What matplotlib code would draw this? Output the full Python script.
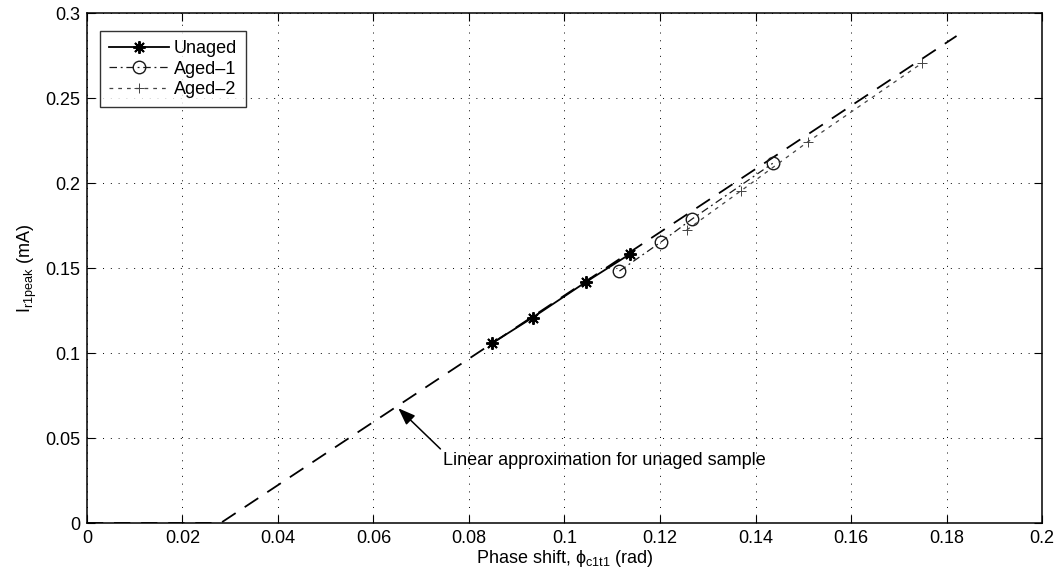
import matplotlib
matplotlib.use("Agg")
import matplotlib.pyplot as plt

plt.rcParams['font.family'] = ['Liberation Sans', 'DejaVu Sans']
plt.rcParams['mathtext.default'] = 'regular'

# Data
unaged_x = [0.0848, 0.0933, 0.1046, 0.1137]
unaged_y = [0.1057, 0.1208, 0.1420, 0.1582]
aged1_x = [0.1115, 0.1203, 0.1266, 0.1436]
aged1_y = [0.1482, 0.1655, 0.1786, 0.2116]
aged2_x = [0.1256, 0.137, 0.151, 0.1748]
aged2_y = [0.1724, 0.1955, 0.2243, 0.2704]

# linear approximation for unaged sample (clipped at zero)
fit_x = [0.0, 0.028, 0.1821]
fit_y = [0.0, 0.0, 0.2865]

xticks = [0, 0.02, 0.04, 0.06, 0.08, 0.1, 0.12, 0.14, 0.16, 0.18, 0.2]
xtick_labels = ['0', '0.02', '0.04', '0.06', '0.08', '0.1', '0.12', '0.14', '0.16', '0.18', '0.2']
yticks = [0, 0.05, 0.1, 0.15, 0.2, 0.25, 0.3]
ytick_labels = ['0', '0.05', '0.1', '0.15', '0.2', '0.25', '0.3']

FS = 13

fig = plt.figure(figsize=(10.58, 5.79), dpi=100)
ax = fig.add_axes([0.0822, 0.0967, 0.9027, 0.8808])

ax.plot(fit_x, fit_y, linestyle=(0, (9, 6)), color='black', linewidth=1.3, zorder=2)
ax.plot(unaged_x, unaged_y, '-', color='black', marker=(8, 2, 0), markersize=9,
        markeredgewidth=1.4, linewidth=1.3, label='Unaged', zorder=3)
ax.plot(aged1_x, aged1_y, linestyle=(0, (6, 3, 1.5, 3)), color='#1a1a1a', marker='o',
        markersize=9, markerfacecolor='none', markeredgewidth=1.0, linewidth=0.9,
        label='Aged\u20131', zorder=3)
ax.plot(aged2_x, aged2_y, linestyle=(0, (3, 4)), color='#444444', marker='+', markersize=7,
        markeredgewidth=0.7, linewidth=0.9, label='Aged\u20132', zorder=3)

ax.set_xlim(0, 0.2)
ax.set_ylim(0, 0.3)
ax.set_xticks(xticks)
ax.set_xticklabels(xtick_labels)
ax.set_yticks(yticks)
ax.set_yticklabels(ytick_labels)
ax.tick_params(direction='in', top=True, right=True, labelsize=FS, length=6, pad=5)
ax.grid(True, linestyle=(0, (1, 7)), color='black', linewidth=0.7)
for s in ax.spines.values():
    s.set_linewidth(1.1)

ax.set_xlabel('Phase shift, \u03d5$_{c1t1}$ (rad)', fontsize=FS, labelpad=1)
ax.set_ylabel('I$_{r1peak}$ (mA)', fontsize=FS, labelpad=4)

ax.annotate('Linear approximation for unaged sample', xy=(0.0652, 0.0675),
            xytext=(0.0746, 0.037), fontsize=FS, va='center', ha='left',
            arrowprops=dict(arrowstyle='-|>,head_length=0.8,head_width=0.3',
                            color='black', lw=1.1, shrinkA=0, shrinkB=0,
                            relpos=(0.0, 1.0)))

leg = ax.legend(loc='upper left', bbox_to_anchor=(0.0136, 0.965), fontsize=FS,
                frameon=True, fancybox=False, edgecolor='black', handlelength=3.3,
                borderaxespad=0.0, labelspacing=0.2, borderpad=0.5,
                handletextpad=0.3)
leg.get_frame().set_linewidth(1.0)

fig.savefig('out.png', dpi=100)
